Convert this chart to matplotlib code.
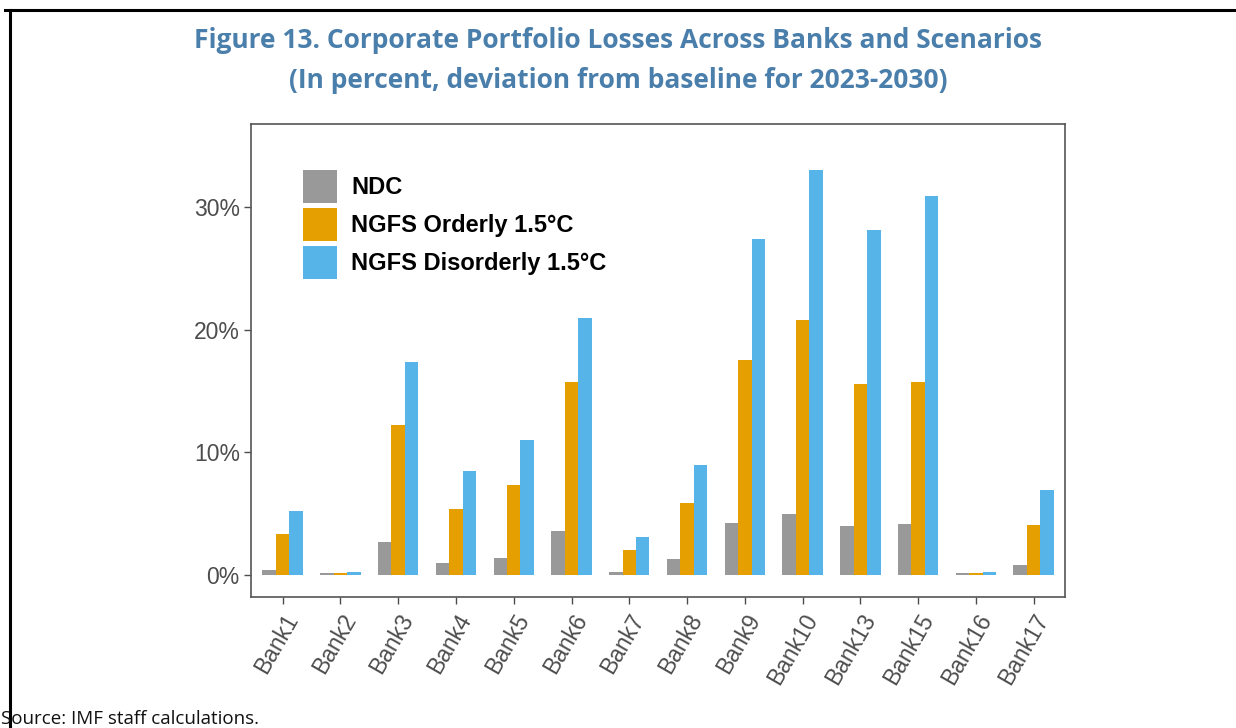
import matplotlib.pyplot as plt
import numpy as np
from matplotlib.lines import Line2D
from matplotlib.ticker import FuncFormatter

#--------------- data -----------------------#
banks = ['Bank1', 'Bank2', 'Bank3', 'Bank4', 'Bank5', 'Bank6', 'Bank7',
         'Bank8', 'Bank9', 'Bank10', 'Bank13', 'Bank15', 'Bank16', 'Bank17']
ndc = [0.4, 0.15, 2.7, 0.95, 1.35, 3.6, 0.27, 1.3, 4.25, 4.95, 4.0, 4.15, 0.15, 0.8]
orderly = [3.3, 0.15, 12.2, 5.35, 7.3, 15.75, 2.05, 5.9, 17.5, 20.8, 15.55, 15.7, 0.15, 4.05]
disorderly = [5.2, 0.2, 17.4, 8.5, 11.0, 20.95, 3.1, 8.95, 27.4, 33.0, 28.1, 30.9, 0.2, 6.9]
series_names = ['NDC', 'NGFS Orderly 1.5°C', 'NGFS Disorderly 1.5°C']
colors = ['#999999', '#E69F00', '#56B4E9']

#--------------- plot -----------------#
fig = plt.figure(figsize=(12.36, 7.28), dpi=100)
ax = fig.add_axes([0.203, 0.18, 0.659, 0.65])

x = np.arange(len(banks))
w = 0.233
for i, (vals, c) in enumerate(zip([ndc, orderly, disorderly], colors)):
    ax.bar(x + (i - 1) * w, vals, width=w, color=c, label=series_names[i])

ax.set_xlim(-0.55, len(banks) - 0.45)
ax.set_ylim(-1.8, 36.8)
ax.set_yticks([0, 10, 20, 30])
ax.yaxis.set_major_formatter(FuncFormatter(lambda v, p: '%d%%' % v))
ax.set_xticks(x)
ax.set_xticklabels(banks, rotation=60, ha='right', rotation_mode='anchor')
ax.tick_params(axis='both', colors='#4d4d4d', labelcolor='#4d4d4d',
               labelsize=16.5, length=5, width=1)
ax.tick_params(axis='x', pad=4)
ax.tick_params(axis='y', pad=3)
for s in ax.spines.values():
    s.set_color('#555555')
    s.set_linewidth(1.2)

leg = ax.legend(loc='upper left', bbox_to_anchor=(0.064, 0.903), frameon=False,
                prop={'family': 'Liberation Sans', 'weight': 'bold', 'size': 17},
                handlelength=1.45, handleheight=1.8, labelspacing=0.2,
                handletextpad=0.6, borderaxespad=0, borderpad=0)

for t in ax.get_xticklabels() + ax.get_yticklabels():
    t.set_family('Liberation Sans')

fig.text(0.5, 0.944, 'Figure 13. Corporate Portfolio Losses Across Banks and Scenarios',
         ha='center', va='center', fontsize=19, fontweight='bold',
         color='#4a7eab', family='Open Sans')
fig.text(0.5, 0.889, '(In percent, deviation from baseline for 2023-2030)',
         ha='center', va='center', fontsize=19, fontweight='bold',
         color='#4a7eab', family='Open Sans')
fig.text(0.001, 0.013, 'Source: IMF staff calculations.', ha='left', va='center',
         fontsize=13.5, color='#111111', family='Open Sans')

# outer frame lines
fig.add_artist(Line2D([5 / 1236, 1.0], [1 - 10 / 728, 1 - 10 / 728],
                      color='black', lw=2.2, transform=fig.transFigure))
fig.add_artist(Line2D([10 / 1236, 10 / 1236], [0.0, 1 - 10 / 728],
                      color='black', lw=2.2, transform=fig.transFigure))

plt.savefig('out.png', dpi=100)
